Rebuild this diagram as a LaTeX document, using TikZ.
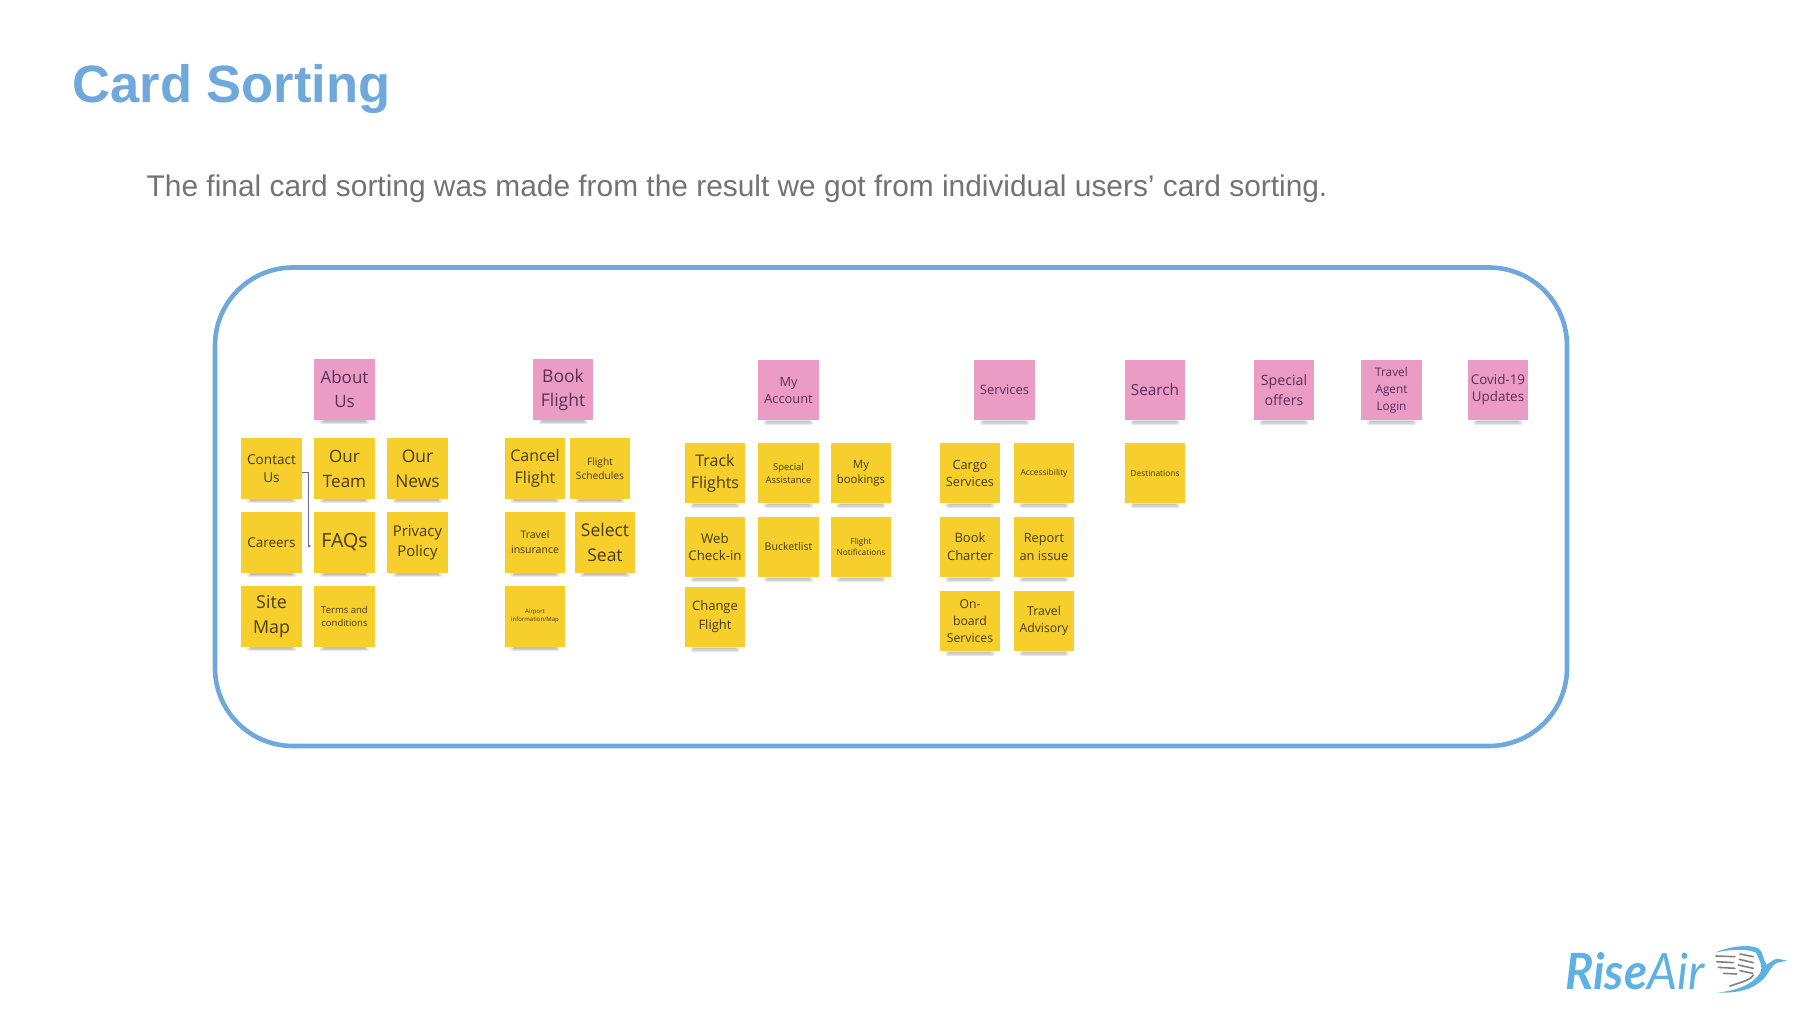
\documentclass[tikz,border=0pt]{standalone}
\usepackage{fontspec}
\usepackage{tikz}
\setmainfont{Liberation Sans}
\newfontfamily\notefont{Open Sans}
\newfontfamily\logofont{Lato}

\definecolor{riseblue}{HTML}{6FA8DC}
\definecolor{logoblue}{HTML}{5DB2E3}
\definecolor{notegold}{HTML}{F6CF2D}
\definecolor{notepink}{HTML}{EA9CC4}
\definecolor{goldink}{HTML}{4A3A12}
\definecolor{pinkink}{HTML}{5C2E5A}

\tikzset{
  noteshade/.style={draw=black!60,opacity=.16,line cap=round},
  notebase/.style={minimum width=60.5pt,minimum height=60.5pt,inner sep=0pt,align=center,
    append after command={
      ([xshift=8pt,yshift=-2.2pt]\tikzlastnode.south west) edge[noteshade,line width=4.4pt] ([xshift=-8pt,yshift=-2.2pt]\tikzlastnode.south east)
      ([xshift=9pt,yshift=-1.8pt]\tikzlastnode.south west) edge[noteshade,line width=2.8pt] ([xshift=-9pt,yshift=-1.8pt]\tikzlastnode.south east)
      ([xshift=10pt,yshift=-1.2pt]\tikzlastnode.south west) edge[noteshade,line width=1.4pt] ([xshift=-10pt,yshift=-1.2pt]\tikzlastnode.south east)
    }},
  goldnote/.style 2 args={notebase,fill=notegold,text=goldink,
    font=\notefont\fontsize{#1}{#2}\selectfont},
  pinknote/.style 2 args={notebase,fill=notepink,text=pinkink,
    font=\notefont\fontsize{#1}{#2}\selectfont},
}

\begin{document}
\begin{tikzpicture}[x=1pt,y=-1pt]
\useasboundingbox (0,0) rectangle (1800,1012);

\node[anchor=base west,inner sep=0pt,text=riseblue,font=\bfseries\fontsize{52.5}{60}\selectfont] (title) at (72.5,102) {Card Sorting};
\node[anchor=base west,inner sep=0pt,text=black!55,font=\fontsize{29.88}{36}\selectfont] (intro) at (146.5,196.5) {The final card sorting was made from the result we got from individual users’ card sorting.};

\draw[riseblue,line width=4.6pt,rounded corners=78pt] (215,267.5) rectangle (1567,746);

% about us
\node[pinknote={17}{24}] (about) at (344.5,389.5) {About\\Us};
\node[goldnote={13.6}{18}] (contact) at (271.5,468.5) {Contact\\Us};
\node[goldnote={17}{25}] (team) at (344.5,468.5) {Our\\Team};
\node[goldnote={17.4}{25}] (news) at (417.5,468.5) {Our\\News};
\node[goldnote={13.5}{18}] (careers) at (271.5,542.5) {Careers};
\node[goldnote={19.6}{24}] (faqs) at (344.5,542.5) {FAQs};
\node[goldnote={14.9}{20}] (privacy) at (417.5,542.5) {Privacy\\Policy};
\node[goldnote={17.8}{25}] (sitemap) at (271.5,616.5) {Site\\Map};
\node[goldnote={9.5}{13}] (terms) at (344.5,616.5) {Terms and\\conditions};
\draw[blue!25!black!60,line width=.4pt,-stealth,shorten >=3pt] ([yshift=-3.5pt]contact.east) -- ++(6,0) |- ([yshift=-3.5pt]faqs.west);

% book flight
\node[pinknote={17.5}{24}] (book) at (563,389.5) {Book\\Flight};
\node[goldnote={16}{22}] (cancel) at (535,468.5) {Cancel\\Flight};
\node[goldnote={10.2}{14}] (schedules) at (600,468.5) {Flight\\Schedules};
\node[goldnote={10.5}{15}] (insurance) at (535,542.5) {Travel\\insurance};
\node[goldnote={17.5}{25}] (seat) at (605,542.5) {Select\\Seat};
\node[goldnote={6}{8}] (airport) at (535,616.5) {Airport\\information/Map};

% my account
\node[pinknote={12.8}{17}] (account) at (788.5,390) {My\\Account};
\node[goldnote={16}{22}] (track) at (715,473) {Track\\Flights};
\node[goldnote={9.4}{13}] (assistance) at (788.5,473) {Special\\Assistance};
\node[goldnote={11.4}{15}] (bookings) at (861,473) {My\\bookings};
\node[goldnote={13.3}{17}] (checkin) at (715,547) {Web\\Check-in};
\node[goldnote={10.6}{14}] (bucketlist) at (788.5,547) {Bucketlist};
\node[goldnote={8.3}{11}] (notifications) at (861,547) {Flight\\Notifications};
\node[goldnote={13}{19}] (change) at (715,617) {Change\\Flight};

% services
\node[pinknote={13}{17}] (services) at (1004.5,390) {Services};
\node[goldnote={12.7}{17}] (cargo) at (970,473) {Cargo\\Services};
\node[goldnote={8.4}{11}] (access) at (1044,473) {Accessibility};
\node[goldnote={13}{18}] (charter) at (970,547) {Book\\Charter};
\node[goldnote={12.8}{18}] (issue) at (1044,547) {Report\\an issue};
\node[goldnote={12.2}{17}] (onboard) at (970,621) {On-\\board\\Services};
\node[goldnote={12.2}{17}] (advisory) at (1044,621) {Travel\\Advisory};

% the rest
\node[pinknote={15.3}{20}] (search) at (1155,390) {Search};
\node[goldnote={8.4}{11}] (destinations) at (1155,473) {Destinations};
\node[pinknote={14.2}{20}] (offers) at (1284,390) {Special\\offers};
\node[pinknote={11.8}{17}] (agent) at (1391.5,390) {Travel\\Agent\\Login};
\node[pinknote={13.4}{17}] (covid) at (1498,390) {Covid-19\\Updates};

% logo
\node[anchor=base west,inner sep=0pt,text=logoblue,xscale=.95,font=\logofont\itshape\fontsize{50}{50}\selectfont] (logo) at (1565,989) {\textbf{Rise}Air};
\begin{scope}[shift={(1540,930)},x=.3333pt,y=-.3333pt]
\fill[logoblue] (525,68) .. controls (570,48) and (630,42) .. (655,55) .. controls (672,66) and (668,90) .. (680,104) .. controls (690,98) and (700,88) .. (712,86) -- (742,92) -- (712,98) .. controls (695,104) and (690,125) .. (672,145) .. controls (640,180) and (590,190) .. (530,188) .. controls (590,182) and (635,165) .. (660,130) .. controls (672,110) and (655,85) .. (648,68) .. controls (620,55) and (570,58) .. (525,68) -- cycle;
\foreach \xa/\ya/\xb/\yb in {528/78/585/80,600/72/640/80,530/95/580/98,598/88/640/98,535/112/585/115,595/105/640/115,550/130/590/132,600/122/638/130}
  \draw[black!50,line width=1.6pt,line cap=round] (\xa,\ya) -- (\xb,\yb);
\draw[black!50,line width=1.6pt,line cap=round] (570,168) .. controls (610,155) and (635,148) .. (640,135);
\end{scope}
\end{tikzpicture}
\end{document}
